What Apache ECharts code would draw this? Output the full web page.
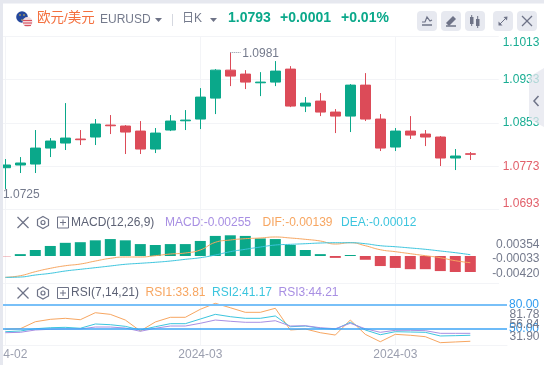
<!DOCTYPE html>
<html>
<head>
<meta charset="utf-8">
<style>
  html, body { margin: 0; padding: 0; background: #fff; }
  #chart { width: 544px; height: 365px; }
</style>
<script src="https://cdn.jsdelivr.net/npm/echarts@6/dist/echarts.min.js"></script>
</head>
<body>
<div id="chart"></div>
<script>
// Candles
const opens = [1.07702, 1.07752, 1.0777, 1.08065, 1.08158, 1.08232, 1.08269, 1.0849, 1.08472, 1.08379, 1.08047, 1.08398, 1.08569, 1.08601, 1.08988, 1.09505, 1.09432, 1.09271, 1.09284, 1.09524, 1.08841, 1.08933, 1.0873, 1.08656, 1.09228, 1.08601, 1.08084, 1.08379, 1.08324, 1.08269, 1.07881, 1.0796];
const closes = [1.07752, 1.07789, 1.08065, 1.08195, 1.0825, 1.08219, 1.08509, 1.08477, 1.08361, 1.08047, 1.08342, 1.08564, 1.08582, 1.09007, 1.09505, 1.09395, 1.09284, 1.09284, 1.09487, 1.08841, 1.08896, 1.0873, 1.08656, 1.09228, 1.08601, 1.08065, 1.08379, 1.08305, 1.08269, 1.07881, 1.07918, 1.0795];
const lows = [1.07309, 1.07604, 1.07604, 1.07899, 1.08029, 1.08121, 1.08121, 1.08324, 1.07955, 1.07955, 1.07973, 1.08379, 1.08398, 1.08416, 1.08693, 1.0921, 1.09155, 1.09025, 1.0921, 1.08822, 1.0873, 1.08656, 1.08342, 1.08361, 1.08564, 1.0801, 1.0801, 1.08232, 1.08102, 1.07733, 1.07659, 1.07844];
const highs = [1.07862, 1.07899, 1.08398, 1.0825, 1.08896, 1.08398, 1.08601, 1.08675, 1.0849, 1.08564, 1.08435, 1.08675, 1.08767, 1.09173, 1.09524, 1.0983, 1.09505, 1.09468, 1.09672, 1.09579, 1.09007, 1.09081, 1.08785, 1.09247, 1.0945, 1.08693, 1.08435, 1.08656, 1.08398, 1.08287, 1.08047, 1.07992];

// MACD pane
const macdBars = [-0.00005, 0.0003, 0.00096, 0.0016, 0.0021, 0.0022, 0.0025, 0.0027, 0.0025, 0.0019, 0.00175, 0.0019, 0.0019, 0.0024, 0.0032, 0.0033, 0.0032, 0.0028, 0.0027, 0.00175, 0.00096, 0.0003, -0.0003, 0.00016, -0.0006, -0.0016, -0.0019, -0.0021, -0.0021, -0.0024, -0.00255, -0.00255];
const dif = [-0.0034, -0.00314, -0.0025, -0.00196, -0.00155, -0.00128, -0.0008, -0.00037, -0.00016, -0.00016, 0.00005, 0.00032, 0.00048, 0.00096, 0.00218, 0.00255, 0.00276, 0.00287, 0.00303, 0.00287, 0.00266, 0.00239, 0.00191, 0.00212, 0.00164, 0.001, 0.00069, 0.00037, 0.00005, -0.00027, -0.00075, -0.00107];
const dea = [-0.0034, -0.00335, -0.00303, -0.00276, -0.00239, -0.00212, -0.00186, -0.00159, -0.00132, -0.00116, -0.001, -0.0008, -0.00053, -0.00027, 0.00016, 0.00069, 0.00107, 0.00143, 0.00175, 0.00186, 0.00196, 0.00207, 0.00212, 0.00212, 0.00196, 0.00164, 0.00148, 0.00128, 0.00107, 0.0008, 0.00053, 0.00021];

// RSI pane
const rsi1 = [48.8, 49.5, 58.5, 61.6, 62.9, 61.1, 70.1, 68, 60.7, 46.6, 58.2, 64.2, 64.2, 74.5, 82.2, 76.5, 70.6, 70.6, 75.8, 47.9, 49.2, 44.4, 41.4, 60.7, 42.3, 32.8, 42.3, 41.1, 39.3, 31.6, 32.5, 33.4];
const rsi2 = [45.7, 46.6, 49.5, 50.8, 51.3, 50.1, 55.6, 54.7, 52.6, 47.9, 52.1, 56, 56, 62, 68, 65, 62.9, 62.9, 65.9, 52.1, 53, 50.1, 48.8, 57.8, 47.9, 41.8, 45.7, 45.3, 44.9, 40.2, 40.6, 41.1];
const rsi3 = [44.4, 44.9, 47.9, 48.8, 49.2, 49.2, 51.7, 51.7, 50.4, 46.2, 50.1, 53, 53, 56.5, 60.7, 59.1, 57.8, 57.8, 59.8, 53, 53.4, 50.8, 49.5, 56.5, 49.5, 44.9, 47.5, 47.5, 47, 43.6, 43.6, 43.6];
const rsiLevels = [80, 50];

// Axis labels
const priceTicks = [1.0693, 1.0773, 1.0853, 1.0933, 1.1013];
const macdTickLabels = ['0.00354', '-0.00033', '-0.00420'];
const rsiTickLabels = ['81.78', '56.84', '31.90'];
const dateTickIndex = [0, 13, 26];
const dateTickLabels = ['2024-02', '2024-03', '2024-03'];
const highLabel = '1.0981';
const lowLabel = '1.0725';

const GREEN = '#0aa88a';
const RED = '#dc4b58';
const GRID = '#f3f4f7';
const GRAY = '#747a8c';
const ICON = '#6e7387';
const ORANGE = '#f7a661';
const CYAN = '#3cc5de';
const PURPLE = '#a88fe3';
const FONT = '"Liberation Sans", "Noto Sans CJK SC", sans-serif';
const BAND = 15;

const chart = echarts.init(document.getElementById('chart'));

const pairs = (arr) => arr.map((v, i) => [i, v]);

// the three panes share the same bar spacing, so max comes from the pane width
const xAxisFor = (gridIndex, width, showLabels) => ({
  type: 'value',
  gridIndex,
  min: -0.5,
  max: -0.5 + width / BAND,
  axisLine: { show: true, onZero: false, lineStyle: { color: GRID } },
  axisTick: { show: false, customValues: dateTickIndex },
  splitLine: { show: true, lineStyle: { color: GRID } },
  axisLabel: {
    show: showLabels,
    customValues: dateTickIndex,
    color: '#9a9eae',
    fontSize: 12,
    margin: 4,
    hideOverlap: false,
    formatter: (v) => dateTickLabels[dateTickIndex.indexOf(v)],
  },
});

const lineSeries = (name, values, color, axis, smooth, extra) => Object.assign({
  name,
  type: 'line',
  xAxisIndex: axis,
  yAxisIndex: axis,
  data: pairs(values),
  smooth,
  symbol: 'none',
  lineStyle: { color, width: 1 },
}, extra || {});

// Header and toolbar helpers
const text = (x, y, str, fill, opts) => ({
  type: 'text',
  z: 60,
  silent: true,
  style: Object.assign({
    x, y, text: str, fill,
    fontSize: 12,
    fontFamily: FONT,
    align: 'left',
    verticalAlign: 'middle',
  }, opts || {}),
});
const line = (points, stroke, lineWidth) => ({
  type: 'polyline',
  z: 60,
  silent: true,
  shape: { points },
  style: { stroke, lineWidth: lineWidth || 1.5, fill: null },
});
const rect = (x, y, width, height, fill, r) => ({
  type: 'rect',
  z: 59,
  silent: true,
  shape: { x, y, width, height, r: r || 0 },
  style: { fill },
});
const circle = (cx, cy, r, fill) => ({
  type: 'circle',
  z: 60,
  silent: true,
  shape: { cx, cy, r },
  style: { fill },
});
const caret = (x, y) => ({
  type: 'polygon',
  z: 60,
  silent: true,
  shape: { points: [[x - 3.5, y - 2], [x + 3.5, y - 2], [x, y + 2]] },
  style: { fill: ICON },
});
const closeIcon = (x, y, r, color) => [
  line([[x - r, y - r], [x + r, y + r]], color, 1.2),
  line([[x - r, y + r], [x + r, y - r]], color, 1.2),
];
const paneIcons = (y) => [
  ...closeIcon(23, y, 5.5, ICON),
  {
    type: 'polygon', z: 60, silent: true,
    shape: { points: [[43, y - 6], [48.5, y - 3], [48.5, y + 3], [43, y + 6], [37.5, y + 3], [37.5, y - 3]] },
    style: { fill: null, stroke: ICON, lineWidth: 1.2 },
  },
  { type: 'circle', z: 60, silent: true, shape: { cx: 43, cy: y, r: 2 }, style: { fill: null, stroke: ICON, lineWidth: 1.2 } },
  {
    type: 'rect', z: 60, silent: true,
    shape: { x: 57.5, y: y - 5.5, width: 11, height: 11 },
    style: { fill: null, stroke: ICON, lineWidth: 1 },
  },
  line([[60, y], [66, y]], ICON, 1),
  line([[63, y - 3], [63, y + 3]], ICON, 1),
];
const rightLabels = (labels, ys) => labels.map((s, i) => text(539.5, ys[i], s, GRAY, { align: 'right' }));

const graphic = [
  // page frame
  rect(0, 0, 544, 3.5, '#e6e8ef'),
  rect(0, 0, 3, 365, '#e6e8ef'),

  // flags
  circle(22, 17, 5.8, '#24479c'),
  circle(20, 15, 0.8, '#e9c53c'),
  circle(24, 15, 0.8, '#e9c53c'),
  circle(22, 20, 0.8, '#e9c53c'),
  circle(27.5, 22, 5, '#f3dcdf'),
  line([[23, 20.5], [32, 20.5]], '#d9515f', 1.1),
  line([[23, 23], [32, 23]], '#d9515f', 1.1),
  line([[24.5, 25.5], [31, 25.5]], '#d9515f', 1.1),
  rect(23.5, 18, 3.5, 2.5, '#4a5fa8'),

  // instrument header
  text(37, 18.5, '欧元/美元', '#f4703f', { fontSize: 13.5 }),
  text(100, 20, 'EURUSD', GRAY),
  caret(158.5, 20),
  line([[172.5, 14], [172.5, 26]], '#d5d8e0', 1),
  text(182, 19, '日K', GRAY),
  caret(213.5, 20),
  text(228, 18.5, '1.0793', GREEN, { fontSize: 14, fontWeight: 'bold' }),
  text(280, 18.5, '+0.0001', GREEN, { fontSize: 14, fontWeight: 'bold' }),
  text(341, 18.5, '+0.01%', GREEN, { fontSize: 14, fontWeight: 'bold' }),

  // toolbar
  rect(417, 11, 20, 20, '#e7e9f0', 4),
  rect(441, 11, 20, 20, '#e7e9f0', 4),
  rect(465, 11, 20, 20, '#e7e9f0', 4),
  rect(493, 11, 20, 20, '#e7e9f0', 4),
  rect(517, 11, 20, 20, '#e7e9f0', 4),
  line([[422, 22], [425, 22], [427, 17], [430, 21], [432, 20]], ICON, 1.2),
  line([[422, 25], [432, 25]], ICON, 1.5),
  { type: 'polygon', z: 60, silent: true, shape: { points: [[446, 23], [453, 16], [456, 19], [449, 26]] }, style: { fill: ICON } },
  line([[446, 26], [456, 26]], ICON, 1.5),
  rect(470, 17, 3.5, 7, ICON),
  line([[471.7, 15], [471.7, 26]], ICON, 1),
  rect(476, 19, 3.5, 7, ICON),
  line([[477.7, 16], [477.7, 28]], ICON, 1),
  line([[499, 25], [507, 17]], ICON, 1),
  { type: 'polygon', z: 60, silent: true, shape: { points: [[503.5, 17], [507.5, 16.5], [507, 20.5]] }, style: { fill: ICON } },
  { type: 'polygon', z: 60, silent: true, shape: { points: [[498.5, 21.5], [498.5, 25.5], [502.5, 25.5]] }, style: { fill: ICON } },
  ...closeIcon(527, 21, 5, ICON),

  // collapse tab
  {
    type: 'polygon', z: 58, silent: true,
    shape: { points: [[529, 77], [544, 68], [544, 127], [529, 119]] },
    style: { fill: 'rgba(228,230,238,0.75)' },
  },
  line([[538.5, 96], [534, 101], [538.5, 106]], ICON, 1.5),

  // MACD header
  ...paneIcons(222.5),
  text(71, 222.5, 'MACD(12,26,9)', '#5d6275'),
  text(165, 222.5, 'MACD:-0.00255', PURPLE),
  text(262.5, 222.5, 'DIF:-0.00139', ORANGE),
  text(341, 222.5, 'DEA:-0.00012', CYAN),
  ...rightLabels(macdTickLabels, [245, 258.5, 273.5]),

  // RSI header
  ...paneIcons(293),
  text(71, 293, 'RSI(7,14,21)', '#5d6275'),
  text(145.5, 293, 'RSI1:33.81', ORANGE),
  text(212, 293, 'RSI2:41.17', CYAN),
  text(278.5, 293, 'RSI3:44.21', PURPLE),
  ...rightLabels(rsiTickLabels, [315, 325, 337]),
];

const highIndex = highs.indexOf(Math.max(...highs));
const lowIndex = lows.indexOf(Math.min(...lows));

const option = {
  animation: false,
  backgroundColor: '#fff',
  textStyle: { fontFamily: FONT },
  graphic,
  // outerBoundsMode none: the first date label is meant to run off the left edge
  grid: [
    { left: -2.2, top: 36.3, width: 500.9, height: 173.2, outerBoundsMode: 'none' },
    { left: -2.2, top: 209.5, width: 500.9, height: 73.5, outerBoundsMode: 'none' },
    { left: -2.2, top: 283, width: 509.2, height: 62, outerBoundsMode: 'none' },
  ],
  xAxis: [
    xAxisFor(0, 500.9, false),
    xAxisFor(1, 500.9, false),
    xAxisFor(2, 509.2, true),
  ],
  yAxis: [
    {
      type: 'value',
      gridIndex: 0,
      position: 'right',
      min: priceTicks[0],
      max: priceTicks[priceTicks.length - 1],
      axisLine: { show: true, lineStyle: { color: GRID } },
      axisTick: { show: false, customValues: priceTicks },
      splitLine: { show: true, lineStyle: { color: GRID } },
      axisLabel: {
        customValues: priceTicks,
        fontSize: 12,
        margin: 4,
        verticalAlignMinLabel: 'bottom',
        verticalAlignMaxLabel: 'top',
        formatter: (v) => v.toFixed(4),
        color: (v) => (v > 1.0793 ? '#19ad93' : '#e2606b'),
      },
    },
    { type: 'value', gridIndex: 1, min: -0.0043, max: 0.00741, axisLine: { show: false }, axisTick: { show: false }, axisLabel: { show: false }, splitLine: { show: false } },
    { type: 'value', gridIndex: 2, min: 28.6, max: 108.3, axisLine: { show: false }, axisTick: { show: false }, axisLabel: { show: false }, splitLine: { show: false } },
  ],
  series: [
    {
      type: 'candlestick',
      xAxisIndex: 0,
      yAxisIndex: 0,
      barWidth: 11,
      data: opens.map((o, i) => [i, o, closes[i], lows[i], highs[i]]),
      itemStyle: {
        color: GREEN,
        color0: RED,
        borderColor: GREEN,
        borderColor0: RED,
        borderWidth: 1,
      },
      markPoint: {
        symbol: 'circle',
        symbolSize: 0,
        silent: true,
        data: [
          {
            coord: [highIndex, highs[highIndex]],
            label: { show: true, position: 'right', distance: 12, offset: [0, 1], color: GRAY, fontSize: 12, formatter: highLabel },
          },
          {
            coord: [lowIndex, lows[lowIndex]],
            label: { show: true, position: 'bottom', distance: 0, offset: [16, 0], color: GRAY, fontSize: 12, formatter: lowLabel },
          },
        ],
      },
      markLine: {
        silent: true,
        symbol: 'none',
        label: { show: false },
        lineStyle: { color: '#8a8f9f', type: 'dotted', width: 1 },
        data: [[
          { coord: [highIndex, highs[highIndex]] },
          { coord: [highIndex + 0.7, highs[highIndex]] },
        ]],
      },
    },
    {
      type: 'bar',
      xAxisIndex: 1,
      yAxisIndex: 1,
      barWidth: 11,
      data: pairs(macdBars),
      itemStyle: { color: (p) => (p.value[1] >= 0 ? GREEN : RED) },
    },
    lineSeries('DIF', dif, ORANGE, 1, true),
    lineSeries('DEA', dea, CYAN, 1, true),
    lineSeries('RSI1', rsi1, ORANGE, 2, false),
    lineSeries('RSI2', rsi2, CYAN, 2, false),
    lineSeries('RSI3', rsi3, PURPLE, 2, false, {
      markLine: {
        silent: true,
        symbol: 'none',
        data: rsiLevels.map((v, i) => ({
          yAxis: v,
          lineStyle: { color: i === 0 ? '#79c0f8' : '#3da5f6', type: 'solid', width: i === 0 ? 2 : 1.5 },
        })),
        label: {
          position: 'end',
          distance: 2,
          color: '#2f9bf0',
          fontSize: 12,
          formatter: (p) => p.value.toFixed(2),
        },
      },
    }),
  ],
};

chart.setOption(option);
</script>
</body>
</html>
